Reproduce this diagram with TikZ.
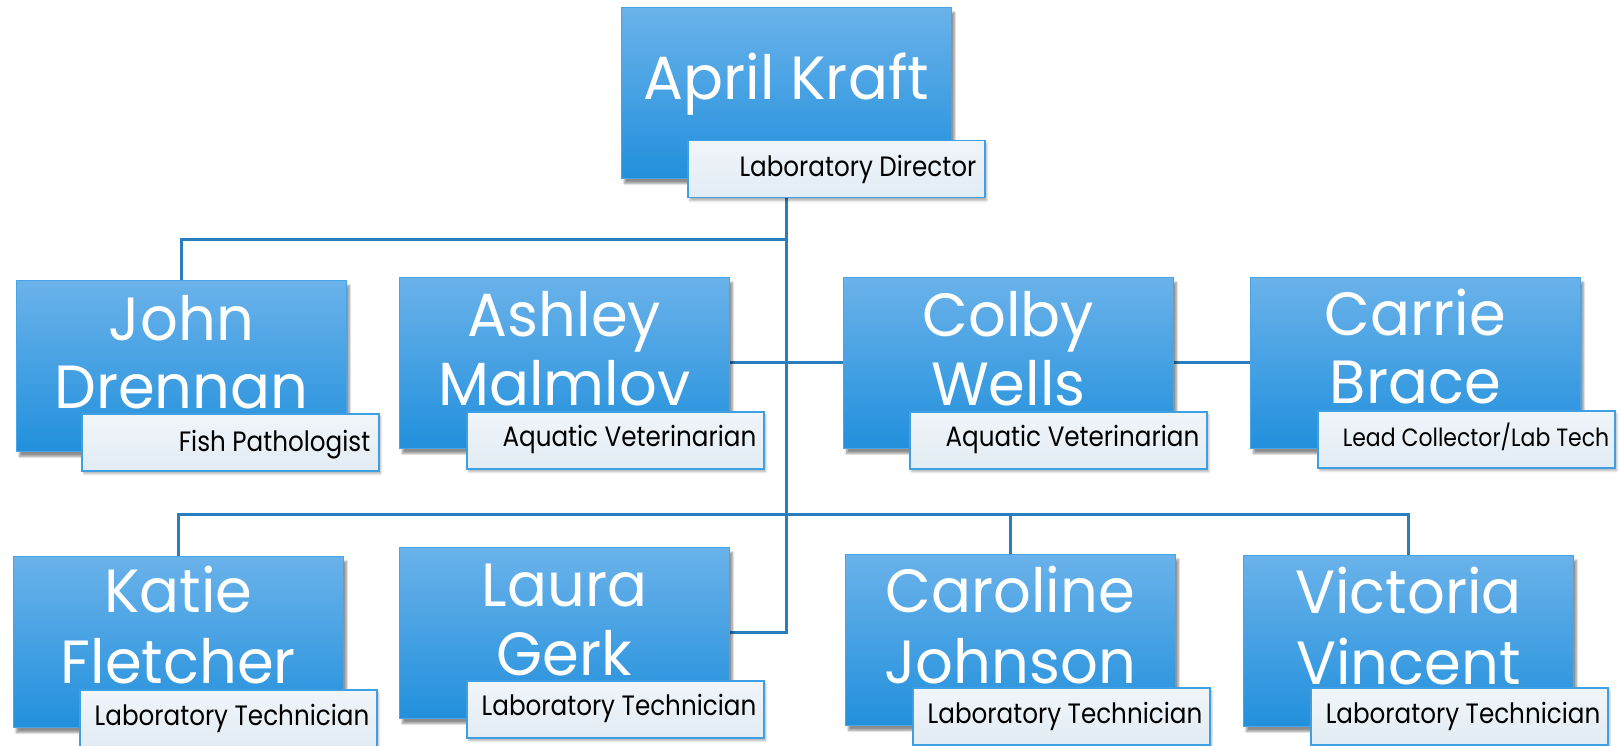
\documentclass[tikz,border=0pt]{standalone}
\usepackage{fontspec}
\setmainfont{Poppins}
\newfontfamily\namefont[FakeStretch=0.97]{Poppins}
\newfontfamily\labfont[FakeStretch=0.88]{Poppins}
\usetikzlibrary{calc,shadows,shadows.blur}
\definecolor{boxtop}{HTML}{6AB2EA}
\definecolor{boxbot}{HTML}{2290DC}
\definecolor{boxedge}{HTML}{4AA5E8}
\definecolor{labtop}{HTML}{F0F5F9}
\definecolor{labbot}{HTML}{E2ECF4}
\definecolor{labedge}{HTML}{3E9FE3}
\definecolor{linkc}{HTML}{2A7EBE}
\pgfdeclarelayer{background}
\pgfsetlayers{background,main}
\tikzset{
  person/.style={anchor=north west, minimum width=330pt, minimum height=171pt, inner sep=0pt,
    top color=boxtop, bottom color=boxbot, draw=boxedge, line width=0.8pt,
    blur shadow={shadow xshift=3pt, shadow yshift=-5pt, shadow blur steps=6, shadow opacity=45}},
  title/.style={anchor=north west, minimum width=297pt, minimum height=57pt, inner sep=0pt,
    top color=labtop, bottom color=labbot, draw=labedge, line width=1.5pt,
    blur shadow={shadow xshift=2pt, shadow yshift=-3pt, shadow blur steps=5, shadow opacity=30}},
  nm/.style={anchor=base, text=white, font=\namefont\fontsize{61}{61}\selectfont, inner sep=0pt},
  lb/.style={anchor=base east, text=black, font=\labfont\fontsize{28}{28}\selectfont, inner sep=0pt},
  lbs/.style={lb, font=\labfont\fontsize{25}{25}\selectfont},
  link/.style={draw=linkc, line width=3pt}
}
\begin{document}
\begin{tikzpicture}[x=1pt,y=-1pt]
\useasboundingbox (0,0) rectangle (1620,746);
% boxes
\node[person] (april) at (621,7) {};
\node[person] (john) at (16,280) {};
\node[person] (ashley) at (399,277) {};
\node[person] (colby) at (843,277) {};
\node[person] (carrie) at (1250,277) {};
\node[person] (katie) at (13,556) {};
\node[person] (laura) at (399,547) {};
\node[person] (caroline) at (845,554) {};
\node[person] (victoria) at (1243,555) {};
% names
\node[nm] (aprilN) at ($(april.north)+(0,93)$) {April Kraft};
\node[nm] (johnN1) at ($(john.north)+(0,60)$) {John};
\node[nm] (johnN2) at ($(john.north)+(0,128)$) {Drennan};
\node[nm] (ashleyN1) at ($(ashley.north)+(0,59)$) {Ashley};
\node[nm] (ashleyN2) at ($(ashley.north)+(0,128)$) {Malmlov};
\node[nm] (colbyN1) at ($(colby.north)+(0,59)$) {Colby};
\node[nm] (colbyN2) at ($(colby.north)+(0,128)$) {Wells};
\node[nm] (carrieN1) at ($(carrie.north)+(0,58)$) {Carrie};
\node[nm] (carrieN2) at ($(carrie.north)+(0,126)$) {Brace};
\node[nm] (katieN1) at ($(katie.north)+(0,56)$) {Katie};
\node[nm] (katieN2) at ($(katie.north)+(0,127)$) {Fletcher};
\node[nm] (lauraN1) at ($(laura.north)+(0,59)$) {Laura};
\node[nm] (lauraN2) at ($(laura.north)+(0,128)$) {Gerk};
\node[nm] (carolineN1) at ($(caroline.north)+(0,58)$) {Caroline};
\node[nm] (carolineN2) at ($(caroline.north)+(0,129)$) {Johnson};
\node[nm] (victoriaN1) at ($(victoria.north)+(0,58)$) {Victoria};
\node[nm] (victoriaN2) at ($(victoria.north)+(0,129)$) {Vincent};
% title boxes
\node[title] (aprilL) at (687,140) {};
\node[title] (johnL) at (81,413) {};
\node[title] (ashleyL) at (466,411) {};
\node[title] (colbyL) at (909,411) {};
\node[title] (carrieL) at (1317,410) {};
\node[title] (katieL) at (79,689) {};
\node[title] (lauraL) at (466,680) {};
\node[title] (carolineL) at (912,687) {};
\node[title] (victoriaL) at (1310,687) {};
% titles
\node[lb] (aprilT) at ($(aprilL.north east)+(-9,37)$) {Laboratory Director};
\node[lb] (johnT) at ($(johnL.north east)+(-9,38)$) {Fish Pathologist};
\node[lb] (ashleyT) at ($(ashleyL.north east)+(-8,35)$) {Aquatic Veterinarian};
\node[lb] (colbyT) at ($(colbyL.north east)+(-8,35)$) {Aquatic Veterinarian};
\node[lbs] (carrieT) at ($(carrieL.north east)+(-6,36)$) {Lead Collector/Lab Tech};
\node[lb] (katieT) at ($(katieL.north east)+(-8,36)$) {Laboratory Technician};
\node[lb] (lauraT) at ($(lauraL.north east)+(-8,35)$) {Laboratory Technician};
\node[lb] (carolineT) at ($(carolineL.north east)+(-8,36)$) {Laboratory Technician};
\node[lb] (victoriaT) at ($(victoriaL.north east)+(-8,36)$) {Laboratory Technician};
% connectors
\coordinate (topbar) at (786,240);
\coordinate (lowbar) at (786,514);
\begin{pgfonlayer}{background}
\draw[link] (april.south) |- (laura.east);
\draw[link] (topbar) -| (john.north);
\draw[link] (ashley.east) -- (colby.west);
\draw[link] (colby.east) -- (carrie.west);
\draw[link] (lowbar) -| (katie.north);
\draw[link] (lowbar) -| (caroline.north);
\draw[link] (lowbar) -| (victoria.north);
\end{pgfonlayer}
\end{tikzpicture}
\end{document}
